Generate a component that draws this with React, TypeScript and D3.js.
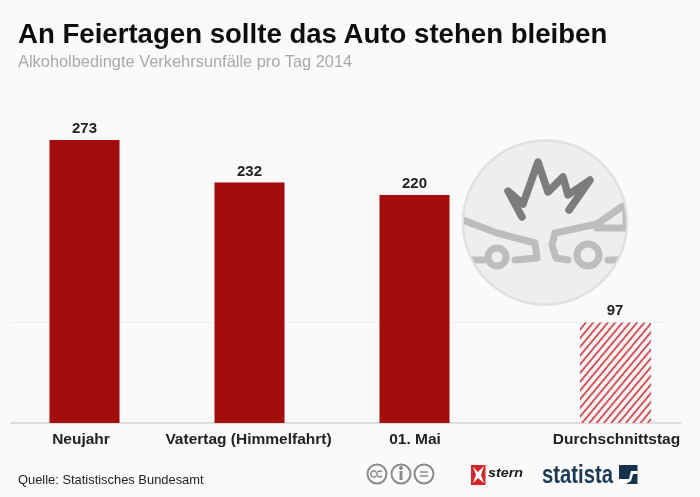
import React from "react";
import * as d3 from "d3";

const categories = ["Neujahr", "Vatertag (Himmelfahrt)", "01. Mai", "Durchschnittstag"];
const values = [273, 232, 220, 97];
const slots = [0, 1, 2, 3.215];
const labelShift = [-3.5, -1, 0.5, 1.5];
const gridTicks = [0, 97];
const title = "An Feiertagen sollte das Auto stehen bleiben";
const subtitle = "Alkoholbedingte Verkehrsunfälle pro Tag 2014";
const source = "Quelle: Statistisches Bundesamt";

const W = 700, H = 497;
const font = "'Liberation Sans', Arial, sans-serif";

export default function App() {
  const y = d3.scaleLinear().domain([0, 273]).range([423, 140]);
  const x = d3.scaleLinear().domain([0, 1]).range([84.5, 249.5]);
  const barW = 70;
  const avgIndex = 3;
  return (
    <div style={{ position: "absolute", left: 0, top: 0, width: W, height: H }}>
      <svg width={W} height={H} style={{ display: "block", fontFamily: font }}>
        <defs>
          <pattern id="hatch" width="5.6" height="5.6" patternUnits="userSpaceOnUse" patternTransform="rotate(-50)">
            <rect width="5.6" height="5.6" fill="#fbf3f3" />
            <rect width="5.6" height="1.9" fill="#d4525a" />
          </pattern>
          <filter id="soft" filterUnits="userSpaceOnUse" x="0" y="0" width={W} height={H}>
            <feGaussianBlur stdDeviation="0.4" />
          </filter>
          <clipPath id="circ"><circle cx="545" cy="222.5" r="81" /></clipPath>
        </defs>
        <rect width={W} height={H} fill="#fafafa" />

        <g filter="url(#soft)">
          <text x={18} y={42.5} fontSize={27.6} fontWeight={700} fill="#111">{title}</text>
          <text x={18} y={67} fontSize={16.4} fill="#a9a9a9">{subtitle}</text>

          {gridTicks.map((t) => (
            <line key={t} x1={10} x2={t === 0 ? 681 : 665} y1={y(t)} y2={y(t)}
              stroke={t === 0 ? "#d2d2d2" : "#efefef"} strokeWidth={t === 0 ? 1.6 : 1} />
          ))}

          <circle cx={545} cy={222.5} r={82} fill="#eeeeee" stroke="#e1e1e1" strokeWidth={2.5} />
          <g clipPath="url(#circ)" fill="none" stroke="#bdbdbd" strokeWidth={7} strokeLinecap="round" strokeLinejoin="round">
            <path d="M463 220 L497 233 L535 243 L537 258 L515 260" />
            <path d="M473 260 L483 260" />
            <circle cx={497} cy={257} r={9} />
            <path d="M568 260 L556 258 L552 245 L555 233 L597 224 L623 206 L626 206 L626 228 L597 228" />
            <circle cx={588} cy={255} r={11} />
            <path d="M608 260 L622 260" />
          </g>
          <path d="M522 217 L508 191 L523 204 L538 162 L548 192 L563 177 L568 195 L590 180 L569 210"
            fill="none" stroke="#7c7c7c" strokeWidth={7.5} strokeLinecap="round" strokeLinejoin="round" />

          {categories.map((c, i) => {
            const cx = x(slots[i]);
            return (
              <g key={c}>
                <rect x={cx - barW / 2} y={y(values[i])} width={barW + (i === avgIndex ? 1 : 0)} height={y(0) - y(values[i])}
                  fill={i === avgIndex ? "url(#hatch)" : "#a30808"} />
                <text x={cx} y={y(values[i]) - 7} textAnchor="middle" fontSize={15} fontWeight={700} fill="#222">{values[i]}</text>
                <text x={cx + labelShift[i]} y={444} textAnchor="middle" fontSize={15.5} fontWeight={700} fill="#222">{c}</text>
              </g>
            );
          })}

          <text x={18} y={484} fontSize={12.9} fill="#222">{source}</text>

          <g fill="none" stroke="#8a8a8a" strokeWidth={2}>
            <circle cx={377} cy={474} r={9.5} />
            <circle cx={401} cy={474} r={9.5} />
            <circle cx={424} cy={474} r={9.5} />
            <path d="M376 472 a3 3 0 1 0 0 4 M382 472 a3 3 0 1 0 0 4" strokeWidth={1.4} />
            <path d="M420 472 H428 M420 476 H428" strokeWidth={1.6} />
            <path d="M401 471 V480" strokeWidth={3} />
            <circle cx={401} cy={468} r={1} />
          </g>

          <rect x={471} y={465} width={14.5} height={20} fill="#d6282b" />
          <path d="M473 467 L478 472 L484 466 L481 475 L484 483 L478 478 L473 483 L476 475 Z" fill="#fff" />
          <text x={488} y={477} fontSize={13.5} fontWeight={700} fontStyle="italic" fill="#1a1a1a" textLength={35} lengthAdjust="spacingAndGlyphs">stern</text>
          <text x={542} y={483} fontSize={26} fontWeight={700} fill="#1d3a55" textLength={71} lengthAdjust="spacingAndGlyphs">statista</text>
          <rect x={619} y={465} width={18.5} height={19} fill="#14324e" />
          <path d="M619 484 L619 479 L629 479 L631 471 L637.5 471 L637.5 474 L633 474 L631 481 L626 484 Z" fill="#fff" />
        </g>
      </svg>
    </div>
  );
}
